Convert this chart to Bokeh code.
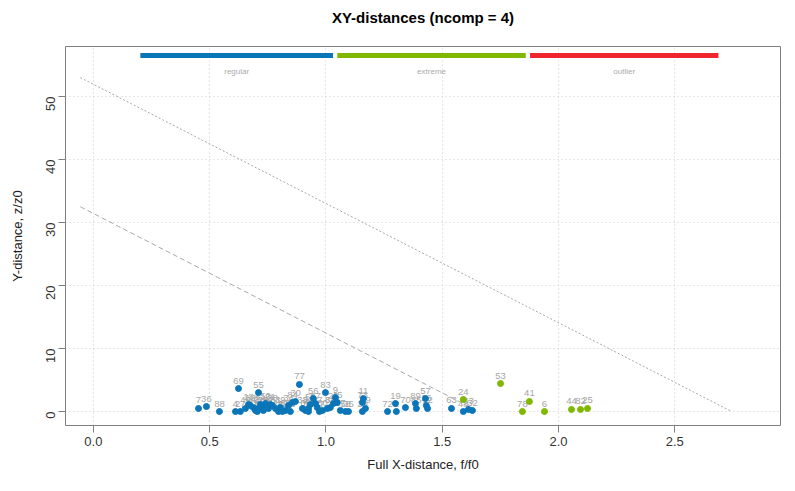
import math
from bokeh.plotting import figure
from bokeh.models import Range1d, FixedTicker, ColumnDataSource, PrintfTickFormatter
from bokeh.core.properties import value
from bokeh.embed import file_html
from bokeh.resources import INLINE

# ---------------- data ----------------
reg_x = [0.452, 0.486, 0.542, 0.611, 0.624, 0.632, 0.654, 0.667, 0.675, 0.688,
         0.697, 0.710, 0.710, 0.718, 0.727, 0.731, 0.740, 0.753, 0.761, 0.770,
         0.783, 0.796, 0.804, 0.826, 0.839, 0.856, 0.869, 0.886, 0.899, 0.912,
         0.925, 0.933, 0.946, 0.955, 0.963, 0.985, 0.998, 1.006, 1.019, 1.032,
         1.041, 1.049, 1.062, 1.084, 1.097, 1.157, 1.157, 1.161, 1.170, 1.265,
         1.299, 1.303, 1.342, 1.385, 1.389, 1.428, 1.432, 1.437, 1.540, 1.591,
         1.613, 1.630, 0.813, 0.847, 0.925, 0.972, 0.705]
reg_y = [0.48, 0.79, 0.00, 0.00, 3.65, 0.00, 0.48, 1.11, 0.95, 0.63,
         0.16, 3.00, 0.48, 1.11, 0.63, 0.16, 1.27, 0.48, 1.11, 0.95,
         0.48, 0.00, 0.63, 0.16, 0.95, 1.43, 1.59, 4.29, 0.48, 0.16,
         0.48, 1.11, 2.06, 1.27, 0.63, 0.16, 3.00, 0.48, 0.63, 1.27,
         2.22, 1.43, 0.16, 0.00, 0.00, 1.43, 0.00, 2.06, 0.48, 0.00,
         1.27, 0.00, 0.63, 1.27, 0.48, 2.06, 0.95, 0.48, 0.48, 0.00,
         0.32, 0.16, 0.00, 0.00, 0.00, 0.00, 0.00]
reg_lab = ["7", "36", "88", "4", "69", "27", "49", "18", "13", "40",
           "1", "55", "21", "51", "33", "14", "50", "87", "31", "28",
           "61", "10", "39", "60", "34", "84", "30", "77", "38", "65",
           "22", "59", "56", "67", "47", "80", "83", "3", "68", "26",
           "9", "45", "17", "58", "35", "73", "29", "11", "79", "72",
           "19", "2", "70", "89", "85", "57", "16", "12", "63", "48",
           "43", "32", "42", "46", "54", "37", "5"]

ext_x = [1.591, 1.751, 1.845, 1.875, 1.940, 2.056, 2.095, 2.125]
ext_y = [1.90, 4.44, 0.00, 1.59, 0.00, 0.32, 0.32, 0.48]
ext_lab = ["24", "53", "78", "41", "6", "44", "82", "25"]

# critical limits (straight lines)
lim_ext_x = [-0.056, 1.656]
lim_ext_y = [32.5, 0.0]
lim_out_x = [-0.056, 2.745]
lim_out_y = [53.0, 0.0]

x_ticks = [0.0, 0.5, 1.0, 1.5, 2.0, 2.5]
y_ticks = [0, 10, 20, 30, 40, 50]
legend_names = ["regular", "extreme", "outlier"]
title_text = "XY-distances (ncomp = 4)"

C_REG = "#0a76b8"
C_EXT = "#80b800"
C_OUT = "#f0262e"
FONT = "Liberation Sans"

x0, x1 = -0.12, 2.955
y0, y1 = -2.22, 57.94

p = figure(frame_width=715, frame_height=379, width=787, height=483,
           x_range=Range1d(x0, x1), y_range=Range1d(y0, y1),
           output_backend="svg", toolbar_location=None,
           min_border_left=65, min_border_right=7,
           min_border_top=46, min_border_bottom=58,
           title=title_text + "\n ")

p.title.align = "center"
p.title.text_font = FONT
p.title.text_font_size = "15px"
p.title.text_font_style = "bold"
p.title.text_color = "#000000"
p.title.text_line_height = 1.0
p.title.standoff = 8

p.outline_line_color = "#7f7f7f"
p.outline_line_width = 1
p.background_fill_color = "white"
p.border_fill_color = "white"

for ax in (p.xaxis[0], p.yaxis[0]):
    ax.axis_line_color = None
    ax.major_tick_line_color = "#7f7f7f"
    ax.major_tick_out = 7
    ax.major_tick_in = 0
    ax.minor_tick_line_color = None
    ax.major_label_text_font = FONT
    ax.major_label_text_font_size = "13px"
    ax.major_label_text_color = "#333333"
    ax.axis_label_text_font = FONT
    ax.axis_label_text_font_size = "13px"
    ax.axis_label_text_font_style = "normal"
    ax.axis_label_text_color = "#222222"

p.xaxis.ticker = FixedTicker(ticks=x_ticks)
p.yaxis.ticker = FixedTicker(ticks=y_ticks)
p.xaxis.formatter = PrintfTickFormatter(format="%.1f")
p.xaxis.axis_label = "Full X-distance, f/f0"
p.yaxis.axis_label = "Y-distance, z/z0"
p.xaxis.major_label_standoff = 4
p.xaxis.axis_label_standoff = 8
p.yaxis.major_label_orientation = math.pi / 2
p.yaxis.major_label_standoff = 8
p.yaxis.axis_label_standoff = 14

for g in (p.xgrid[0], p.ygrid[0]):
    g.grid_line_color = "#cfcfcf"
    g.grid_line_dash = "1 3"
    g.grid_line_width = 1
p.xgrid.ticker = FixedTicker(ticks=x_ticks)
p.ygrid.ticker = FixedTicker(ticks=y_ticks)

# limit lines
p.line(lim_out_x, lim_out_y, line_color="#a8a8a8", line_dash="2 2", line_width=1)
p.line(lim_ext_x, lim_ext_y, line_color="#a8a8a8", line_dash="5 3", line_width=1)

# points
src_reg = ColumnDataSource(dict(x=reg_x, y=reg_y, lab=reg_lab))
src_ext = ColumnDataSource(dict(x=ext_x, y=ext_y, lab=ext_lab))
for src in (src_reg, src_ext):
    p.text(x="x", y="y", text="lab", source=src, text_font=value(FONT),
           text_font_size="9.5px", text_color="#a6a6a6", text_align="center",
           text_baseline="bottom", y_offset=-5)
for src, col in ((src_reg, C_REG), (src_ext, C_EXT)):
    p.scatter(x="x", y="y", source=src, size=6, fill_color=col, line_color=col)

# legend bars at the top of the frame
span = x1 - x0
lx0 = x0 + 0.1047 * span
lx1 = x0 + 0.9132 * span
seg = (lx1 - lx0) / 3.0
gap = 0.006 * span
ly = y1 - 0.0235 * (y1 - y0)
ty = y1 - 0.065 * (y1 - y0)
bx0 = [lx0 + i * seg + (gap if i > 0 else 0) for i in range(3)]
bx1 = [lx0 + (i + 1) * seg for i in range(3)]
tx = [(a + b) / 2 for a, b in zip(bx0, bx1)]
p.segment(x0=bx0, y0=[ly] * 3, x1=bx1, y1=[ly] * 3,
          line_color=[C_REG, C_EXT, C_OUT], line_width=5)
p.text(x=tx, y=[ty] * 3, text=legend_names, text_font=value(FONT),
       text_font_size="8px", text_color="#aaaaaa", text_align="center",
       text_baseline="middle")

open("out.html", "w").write(file_html(p, INLINE))
